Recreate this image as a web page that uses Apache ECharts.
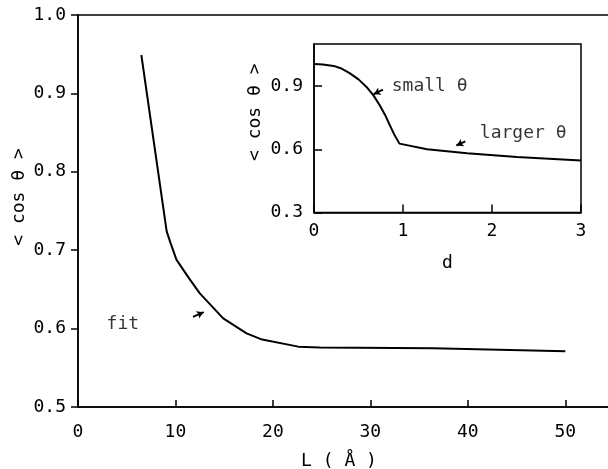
<!DOCTYPE html>
<html><head><meta charset="utf-8">
<script src="https://cdn.jsdelivr.net/npm/echarts@6/dist/echarts.min.js"></script>
<style>html,body{margin:0;padding:0;background:#fff}#c{width:608px;height:469px}</style>
</head><body><div id="c"></div>
<script>
// main plot data
const mainL = [6.5, 9.1, 9.5, 10.1, 11.4, 12.5, 14.9, 17.3, 18.9, 22.6, 24.8, 36.4, 50.0];
const mainCos = [0.949, 0.724, 0.709, 0.688, 0.664, 0.645, 0.613, 0.594, 0.586, 0.577, 0.576, 0.575, 0.571];
const mainXTicks = [0, 10, 20, 30, 40, 50];
const mainYTicks = [0.5, 0.6, 0.7, 0.8, 0.9, 1.0];
// inset data
const insetD = [0, 0.1, 0.22, 0.3, 0.40, 0.5, 0.59, 0.67, 0.74, 0.8, 0.85, 0.9, 0.96, 1.27, 1.72, 2.28, 3.0];
const insetCos = [1.005, 1.003, 0.996, 0.985, 0.962, 0.932, 0.896, 0.855, 0.808, 0.762, 0.716, 0.672, 0.627, 0.600, 0.581, 0.563, 0.547];
const insetXTicks = [0, 1, 2, 3];
const insetYTicks = [0.3, 0.6, 0.9];

const FONT = 'DejaVu Sans Mono';
const txt = {fontFamily: FONT, fontSize: 18, color: '#000'};
const black = '#000';

const chart = echarts.init(document.getElementById('c'), null, {renderer: 'canvas'});
chart.setOption({
  animation: false,
  backgroundColor: '#fff',
  grid: [
    {left: 78, top: 15, width: 536, height: 392, outerBoundsMode: 'none', containLabel: false,
     show: true, borderColor: black, borderWidth: 1.5, backgroundColor: 'transparent'},
    {left: 314, top: 44, width: 267, height: 168.5, outerBoundsMode: 'none', containLabel: false,
     show: true, borderColor: black, borderWidth: 1.5, backgroundColor: '#fff', z: 5}
  ],
  graphic: [
    {type: 'text', x: 19, y: 197, rotation: Math.PI / 2, silent: true,
     style: {text: '< cos θ >', fontFamily: FONT, fontSize: 18, fill: black, align: 'center', verticalAlign: 'middle'}}
  ],
  xAxis: [
    {gridIndex: 0, type: 'value', min: 0, max: 55, interval: 10,
     name: 'L ( Å )', nameLocation: 'middle', nameGap: 45, nameTextStyle: Object.assign({}, txt, {padding: [0, 14, 0, 0]}),
     axisLine: {show: true, lineStyle: {color: black, width: 1.5}},
     axisTick: {show: true, inside: true, length: 7, lineStyle: {color: black, width: 1.5}, customValues: mainXTicks},
     axisLabel: Object.assign({}, txt, {margin: 16, customValues: mainXTicks, formatter: v => (v % 10 === 0 ? String(v) : '')}),
     splitLine: {show: false}},
    {gridIndex: 1, type: 'value', min: 0, max: 3, interval: 1,
     name: 'd', nameLocation: 'middle', nameGap: 42, nameTextStyle: txt,
     axisLine: {show: true, lineStyle: {color: black, width: 1.5}},
     axisTick: {show: true, inside: true, length: 8, lineStyle: {color: black, width: 1.5}, customValues: insetXTicks},
     axisLabel: Object.assign({}, txt, {margin: 10, customValues: insetXTicks, formatter: v => String(v)}),
     splitLine: {show: false}, z: 6}
  ],
  yAxis: [
    {gridIndex: 0, type: 'value', min: 0.5, max: 1.0, interval: 0.1,
     axisLine: {show: true, lineStyle: {color: black, width: 1.5}},
     axisTick: {show: true, inside: false, length: 7, lineStyle: {color: black, width: 1.5}, customValues: mainYTicks},
     axisLabel: Object.assign({}, txt, {margin: 12, customValues: mainYTicks, formatter: v => v.toFixed(1)}),
     splitLine: {show: false}},
    {gridIndex: 1, type: 'value', min: 0.3, max: 1.1, interval: 0.3,
     name: '< cos θ >', nameLocation: 'middle', nameGap: 50, nameRotate: 90,
     nameTextStyle: Object.assign({}, txt, {padding: [0, 0, 0, 32]}),
     axisLine: {show: true, lineStyle: {color: black, width: 1.5}},
     axisTick: {show: true, inside: true, length: 8, lineStyle: {color: black, width: 1.5}, customValues: insetYTicks},
     axisLabel: Object.assign({}, txt, {margin: 11, customValues: insetYTicks, formatter: v => (Math.abs(v - 1.1) < 1e-6 ? '' : v.toFixed(1))}),
     splitLine: {show: false}, z: 6}
  ],
  series: [
    {type: 'line', xAxisIndex: 0, yAxisIndex: 0, data: mainL.map((x, i) => [x, mainCos[i]]),
     showSymbol: false, symbol: 'none', lineStyle: {color: black, width: 2}, z: 2,
     markLine: {silent: true, symbol: ['none', 'arrow'], symbolSize: [6, 7], label: {show: false},
       lineStyle: {color: black, width: 2, type: 'solid'},
       data: [[{coord: [11.8, 0.615]}, {coord: [12.9, 0.621]}]]}},
    {type: 'line', xAxisIndex: 1, yAxisIndex: 1, data: insetD.map((x, i) => [x, insetCos[i]]),
     showSymbol: false, symbol: 'none', lineStyle: {color: black, width: 2}, z: 10, smooth: false,
     markLine: {silent: true, symbol: ['none', 'arrow'], symbolSize: [6, 7], label: {show: false},
       lineStyle: {color: black, width: 2, type: 'solid'},
       data: [[{coord: [0.775, 0.883]}, {coord: [0.67, 0.862]}],
              [{coord: [1.70, 0.638]}, {coord: [1.60, 0.618]}]]}},
    {type: 'scatter', xAxisIndex: 0, yAxisIndex: 0, symbolSize: 0, silent: true, z: 3,
     data: [{value: [4.6, 0.606], name: 'fit'}],
     label: {show: true, position: 'inside', formatter: p => p.name, fontFamily: FONT, fontSize: 18, color: black}},
    {type: 'scatter', xAxisIndex: 1, yAxisIndex: 1, symbolSize: 0, silent: true, z: 11,
     data: [{value: [1.30, 0.898], name: 'small θ'}, {value: [2.35, 0.677], name: 'larger θ'}],
     label: {show: true, position: 'inside', formatter: p => p.name, fontFamily: FONT, fontSize: 18, color: black}}
  ]
});
</script></body></html>
